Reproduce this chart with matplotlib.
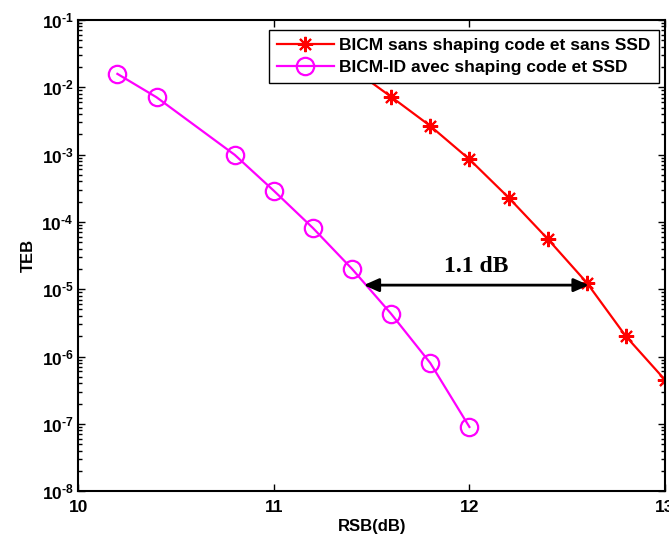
import numpy as np
import matplotlib
matplotlib.use("Agg")
import matplotlib.pyplot as plt
from matplotlib.ticker import LogLocator, FixedLocator, NullLocator, FuncFormatter

plt.rcParams["font.family"] = ["Liberation Sans", "DejaVu Sans"]
plt.rcParams["font.weight"] = "bold"
plt.rcParams["mathtext.fontset"] = "custom"
plt.rcParams["mathtext.rm"] = "Liberation Sans:bold"
plt.rcParams["mathtext.bf"] = "Liberation Sans:bold"

RED = "#ff0000"
MAGENTA = "#ff00ff"

# ---------------------------------------------------------------------------
# data
# ---------------------------------------------------------------------------
snr_bicm = [11.2, 11.4, 11.6, 11.8, 12.0, 12.2, 12.4, 12.6, 12.8, 13.0]
teb_bicm = [4.5e-2, 1.9e-2, 7.2e-3, 2.66e-3, 8.5e-4, 2.3e-4, 5.6e-5, 1.25e-5, 2.0e-6, 4.5e-7]

snr_id = [10.2, 10.4, 10.8, 11.0, 11.2, 11.4, 11.6, 11.8, 12.0]
teb_id = [1.58e-2, 7.1e-3, 9.9e-4, 2.9e-4, 8.1e-5, 2.0e-5, 4.3e-6, 8.0e-7, 9.0e-8]

labels = ["BICM sans shaping code et sans SSD", "BICM-ID avec shaping code et SSD"]

x_ticks = [10, 11, 12, 13]
gap_text = "1.1 dB"
gap_left, gap_right, gap_level = 11.46, 12.61, 1.15e-5

fig = plt.figure(figsize=(6.69, 5.38), dpi=100)
ax = fig.add_axes([0.117, 0.087, 0.877, 0.876])

ax.semilogy(snr_bicm, teb_bicm, color=RED, lw=1.6, marker=(8, 2, 0),
            markersize=11, markeredgewidth=1.5, label=labels[0])
ax.semilogy(snr_id, teb_id, color=MAGENTA, lw=1.6, marker="o",
            markersize=12.5, markerfacecolor="none", markeredgewidth=1.6,
            label=labels[1])

ax.set_xlim(10, 13)
ax.set_ylim(1e-8, 1e-1)

ax.xaxis.set_major_locator(FixedLocator(x_ticks))
ax.xaxis.set_minor_locator(NullLocator())
ax.yaxis.set_major_locator(LogLocator(base=10, numticks=20))
ax.yaxis.set_minor_locator(LogLocator(base=10, subs=np.arange(2, 10), numticks=20))
ax.yaxis.set_major_formatter(FuncFormatter(
    lambda v, p: r"$\mathbf{10^{\text{-}%d}}$" % abs(int(round(np.log10(v))))))

ax.tick_params(which="both", direction="in", top=True, right=True,
               labelsize=12.5, width=1.0)
ax.tick_params(which="major", length=5)
ax.tick_params(which="minor", length=3)
ax.tick_params(axis="x", pad=6)
for t in ax.get_xticklabels() + ax.get_yticklabels():
    t.set_fontweight("bold")
for s in ax.spines.values():
    s.set_linewidth(1.5)
    s.set_color("black")

ax.set_xlabel("RSB(dB)", fontsize=12, fontweight="bold", labelpad=3)
ax.set_ylabel("TEB", fontsize=12, fontweight="bold", labelpad=4)

# gap annotation
ax.annotate("", xy=(gap_left, gap_level), xytext=(gap_right, gap_level),
            arrowprops=dict(arrowstyle="<|-|>,head_length=0.9,head_width=0.4",
                            color="black", lw=2, shrinkA=0, shrinkB=0))
ax.text((gap_left + gap_right) / 2, gap_level * 1.3, gap_text,
        ha="center", va="bottom", fontsize=17, fontweight="bold",
        family="Liberation Serif")

leg = ax.legend(loc="upper right", bbox_to_anchor=(0.989, 0.978),
                fontsize=12.5, frameon=True, fancybox=False, edgecolor="black",
                handlelength=3.3, borderpad=0.45, labelspacing=0.4,
                handletextpad=0.3, borderaxespad=0)
leg.get_frame().set_linewidth(1.0)
leg.get_frame().set_alpha(1)
for t in leg.get_texts():
    t.set_fontweight("bold")

fig.savefig("out.png", dpi=100, facecolor="white")
